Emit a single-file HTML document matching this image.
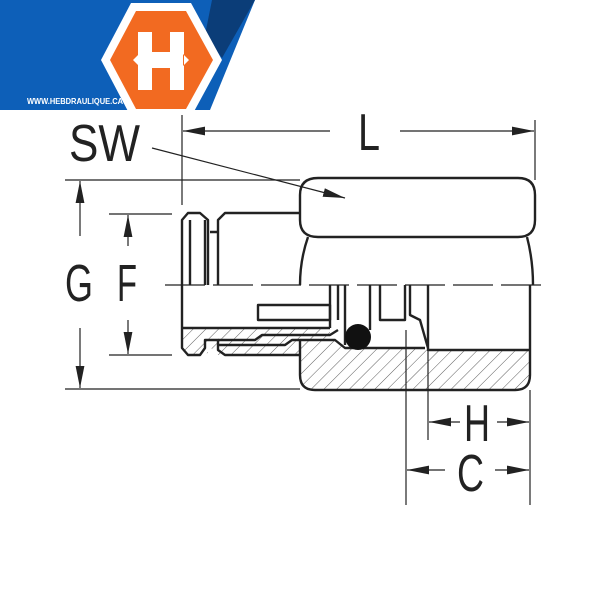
<!DOCTYPE html>
<html><head><style>body{margin:0;background:#fff}svg{display:block}</style></head>
<body>
<svg width="600" height="600" viewBox="0 0 600 600" xmlns="http://www.w3.org/2000/svg" font-family="Liberation Sans, sans-serif">
<defs>
<pattern id="h" patternUnits="userSpaceOnUse" width="9" height="9" patternTransform="rotate(45)">
<line x1="0" y1="0" x2="0" y2="9" stroke="#333" stroke-width="0.8"/>
</pattern>
<marker id="b" viewBox="0 0 20 10" refX="20" refY="5" markerWidth="22" markerHeight="11" orient="auto-start-reverse" markerUnits="userSpaceOnUse">
<path d="M0,1 L20,5 L0,9z" fill="#222"/></marker>
</defs>
<polygon points="0,0 255,0 210,110 0,110" fill="#0d5fb8"/>
<polygon points="212,0 255,0 222,58 205,35" fill="#0b3d78"/>
<text x="27" y="104" font-size="8" font-weight="bold" fill="#fff" textLength="96" lengthAdjust="spacingAndGlyphs">WWW.HEBDRAULIQUE.CA</text>
<polygon points="131,3 191,3 222,60 191,117 131,117 101,60" fill="#fff"/>
<polygon points="136,11 186,11 213,60 186,109 136,109 110,60" fill="#f26a21"/>
<path d="M138,32 h14 v20 h18 v-20 h14 v58 h-14 v-22 h-18 v22 h-14z M133,60 l6,-6 v12z M189,60 l-6,-6 v12z" fill="#fff"/>
<g stroke="#222" fill="none" stroke-width="1.2">
<line x1="182" y1="115" x2="182" y2="205"/>
<line x1="535" y1="120" x2="535" y2="180"/>
<line x1="330" y1="131" x2="183" y2="131" marker-end="url(#b)"/>
<line x1="400" y1="131" x2="534" y2="131" marker-end="url(#b)"/>
<line x1="152" y1="148" x2="345" y2="198" marker-end="url(#b)"/>
<line x1="65" y1="180" x2="300" y2="180"/>
<line x1="65" y1="389" x2="300" y2="389"/>
<line x1="80" y1="236" x2="80" y2="181" marker-end="url(#b)"/>
<line x1="80" y1="328" x2="80" y2="388" marker-end="url(#b)"/>
<line x1="109" y1="214" x2="172" y2="214"/>
<line x1="109" y1="355" x2="172" y2="355"/>
<line x1="128" y1="246" x2="128" y2="215" marker-end="url(#b)"/>
<line x1="128" y1="320" x2="128" y2="354" marker-end="url(#b)"/>
<line x1="428" y1="350" x2="428" y2="440"/>
<line x1="530" y1="390" x2="530" y2="505"/>
<line x1="460" y1="422" x2="429" y2="422" marker-end="url(#b)"/>
<line x1="497" y1="422" x2="529" y2="422" marker-end="url(#b)"/>
<line x1="406" y1="330" x2="406" y2="505"/>
<line x1="445" y1="470" x2="407" y2="470" marker-end="url(#b)"/>
<line x1="495" y1="470" x2="529" y2="470" marker-end="url(#b)"/>
<line x1="165" y1="285" x2="545" y2="285" stroke-dasharray="40,8"/>
</g>
<path d="M182,328 H330 V340 H340 L345,348 H425 V350 H530 V375 Q530,390 515,390 H315 Q300,390 300,375 V355 H218 L208,345 V353 L200,355 H188 L182,348z" fill="url(#h)"/>
<g stroke="#222" stroke-width="2.4" fill="none" stroke-linejoin="round">
<path d="M318,178 H518 Q535,178 535,195 V220 Q535,237 518,237 H318 Q300,237 300,220 V195 Q300,178 318,178z"/>
<path d="M308,237 Q300,260 300,285 M527,237 Q533,260 533,285"/>
<path d="M300,340 V375 Q300,390 315,390 H515 Q530,390 530,375 V285"/>
<path d="M300,213 H225 L218,220 V285 M208,285 V220 L200,213 H188 L182,220 V348 L188,355 H200 L205,348 V340 H218 V350 L225,355 H300"/>
<path d="M210,232 H218 M190,220 V285 M205,220 V285"/>
<line x1="182" y1="328" x2="330" y2="328"/>
<path d="M258,305 H330 V320 H258z"/>
<path d="M218,340 H255 L262,335 H330 L338,330"/>
<path d="M218,345 H285 L292,340 H335 L345,348 H425"/>
<path d="M330,285 V328 M338,285 V320 M345,285 V345 M370,285 V330 M380,285 V320 H405 V285 M410,285 V315 L420,320 L428,348 V350 M428,285 V350 H530"/>
</g>
<circle cx="358" cy="337" r="13" fill="#111"/>
<g fill="#222" font-size="52">
<text x="69" y="161" textLength="71" lengthAdjust="spacingAndGlyphs">SW</text>
<text x="358" y="150" textLength="22" lengthAdjust="spacingAndGlyphs">L</text>
<text x="65" y="301" textLength="28" lengthAdjust="spacingAndGlyphs">G</text>
<text x="117" y="301" textLength="20" lengthAdjust="spacingAndGlyphs">F</text>
<text x="464" y="441" textLength="26" lengthAdjust="spacingAndGlyphs">H</text>
<text x="457" y="491" textLength="27" lengthAdjust="spacingAndGlyphs">C</text>
</g>
</svg>
</body></html>
